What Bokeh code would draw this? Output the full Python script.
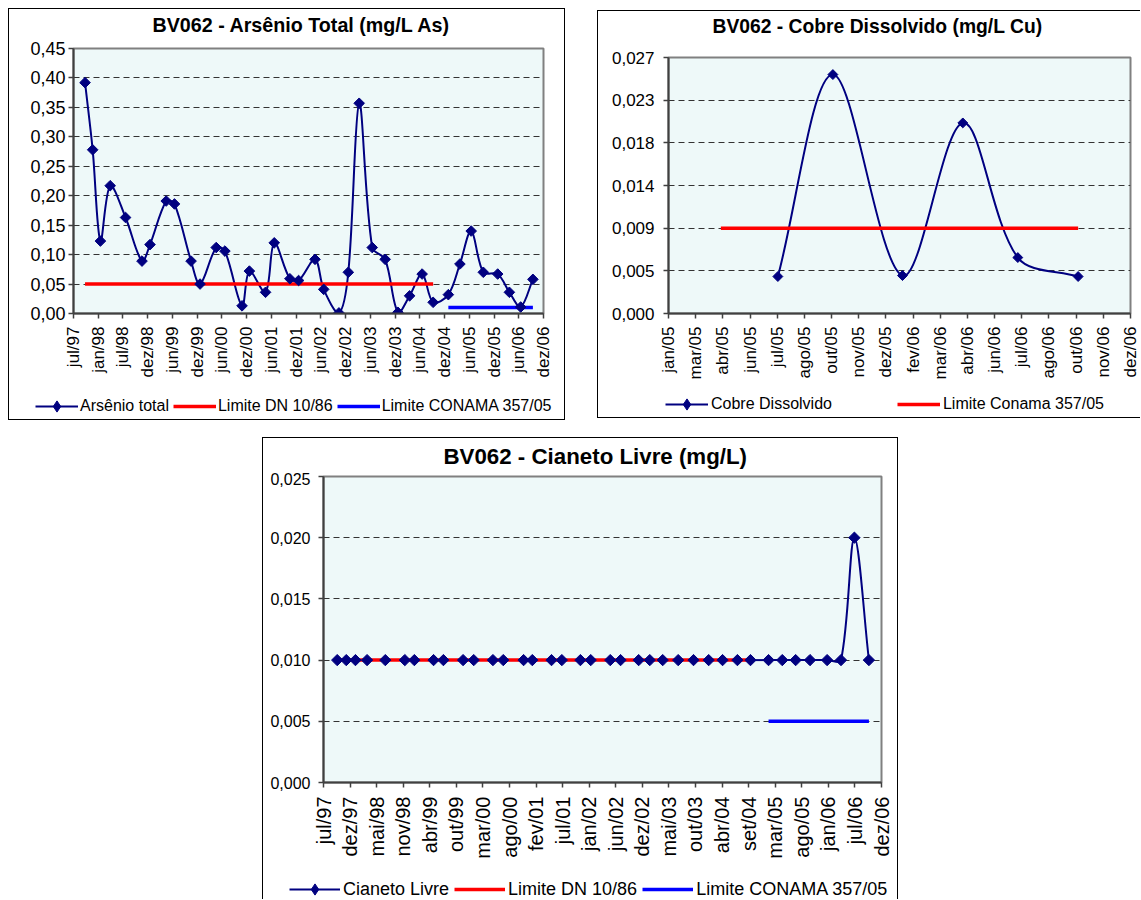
import numpy as np
from bokeh.plotting import figure
from bokeh.models import Range1d, FixedTicker, Legend, LegendItem, Label
from bokeh.layouts import column, row
from bokeh.embed import file_html
from bokeh.resources import INLINE

# ---------------- data ----------------
# sampling campaigns (days after jul/97) shared by Arsenio total and Cianeto livre
sample_day = [85, 141, 198, 270, 383, 504, 563, 682, 743, 865,
              931, 1050, 1114, 1240, 1294, 1413, 1477, 1592, 1656, 1777,
              1841, 1953, 2022, 2102, 2198, 2293, 2387, 2473, 2565, 2646,
              2758, 2843, 2926, 3015, 3121, 3207, 3290, 3380]
arsenio_total = [0.392, 0.278, 0.123, 0.217, 0.163, 0.089, 0.117, 0.191, 0.186, 0.089,
                 0.050, 0.112, 0.106, 0.013, 0.072, 0.036, 0.120, 0.059, 0.056, 0.092,
                 0.041, 0.001, 0.070, 0.357, 0.112, 0.092, 0.002, 0.030, 0.067, 0.019,
                 0.032, 0.084, 0.140, 0.070, 0.067, 0.036, 0.011, 0.058]
cianeto_livre = [0.010, 0.010, 0.010, 0.010, 0.010, 0.010, 0.010, 0.010, 0.010, 0.010,
                 0.010, 0.010, 0.010, 0.010, 0.010, 0.010, 0.010, 0.010, 0.010, 0.010,
                 0.010, 0.010, 0.010, 0.010, 0.010, 0.010, 0.010, 0.010, 0.010, 0.010,
                 0.010, 0.010, 0.010, 0.010, 0.010, 0.010, 0.020, 0.010]
n_dn = 30                    # campaigns evaluated against DN 10/86 (up to dez/04)
limite_dn_as = 0.05
limite_conama_as = 0.01
limite_dn_cn = 0.010
limite_conama_cn = 0.005
span_97_06 = 3458            # axis span jul/97 .. dez/06 (days)

as_x_labels = ["jul/97", "jan/98", "jul/98", "dez/98", "jun/99", "dez/99", "jun/00", "dez/00",
               "jun/01", "dez/01", "jun/02", "dez/02", "jun/03", "dez/03", "jun/04", "dez/04",
               "jun/05", "dez/05", "jun/06", "dez/06"]
as_y_ticks = [0, 0.05, 0.10, 0.15, 0.20, 0.25, 0.30, 0.35, 0.40, 0.45]
as_y_labels = ["0,00", "0,05", "0,10", "0,15", "0,20", "0,25", "0,30", "0,35", "0,40", "0,45"]

cn_x_labels = ["jul/97", "dez/97", "mai/98", "nov/98", "abr/99", "out/99", "mar/00", "ago/00",
               "fev/01", "jul/01", "jan/02", "jun/02", "dez/02", "mai/03", "out/03", "abr/04",
               "set/04", "mar/05", "ago/05", "jan/06", "jul/06", "dez/06"]
cn_y_ticks = [0, 0.005, 0.010, 0.015, 0.020, 0.025]
cn_y_labels = ["0,000", "0,005", "0,010", "0,015", "0,020", "0,025"]

# Cobre dissolvido (days after jan/05)
cu_day = [165, 248, 353, 444, 527, 618]
cobre_dissolvido = [0.0039, 0.0252, 0.0040, 0.0201, 0.0059, 0.0039]
cu_limit_day = [79, 618]
limite_conama_cu = 0.009
span_05_06 = 697
cu_x_labels = ["jan/05", "mar/05", "abr/05", "jun/05", "jul/05", "ago/05", "out/05", "nov/05",
               "dez/05", "fev/06", "mar/06", "abr/06", "jun/06", "jul/06", "ago/06", "out/06",
               "nov/06", "dez/06"]
cu_y_ticks = [0, 0.0045, 0.009, 0.0135, 0.018, 0.0225, 0.027]
cu_y_labels = ["0,000", "0,005", "0,009", "0,014", "0,018", "0,023", "0,027"]

# ---------------- style ----------------
FONT = "Liberation Sans"
NAVY = "#000080"
RED = "#FF0000"
BLUE = "#0000FF"
PLOT_BG = "#EEF9F9"
AXIS = "#404040"


def smooth(xs, ys, kx, ky):
    """Bezier pieces of a smoothed (Excel-like) line; kx, ky = pixels per data unit."""
    P = np.column_stack([np.asarray(xs, float), np.asarray(ys, float)])
    Pp = np.vstack([P[0], P, P[-1]])
    scale = np.array([kx, ky])
    seg = np.hypot(*((P[1:] - P[:-1]) * scale).T)
    d_prev = np.r_[0.0, seg]
    d_next = np.r_[seg, 0.0]
    T = Pp[2:] - Pp[:-2]
    tot = d_prev + d_next
    tot[tot == 0] = 1
    out_c = P + T * (d_next / tot)[:, None] / 3
    in_c = P - T * (d_prev / tot)[:, None] / 3
    return dict(x0=P[:-1, 0], y0=P[:-1, 1], x1=P[1:, 0], y1=P[1:, 1],
                cx0=out_c[:-1, 0], cy0=out_c[:-1, 1], cx1=in_c[1:, 0], cy1=in_c[1:, 1])


def no_align(f):
    try:
        f.frame_align = False
    except Exception:
        pass


def blank_fig(w, h):
    f = figure(width=w, height=h, x_range=Range1d(0, 1), y_range=Range1d(0, 1),
               x_axis_location=None, y_axis_location=None, output_backend="svg",
               toolbar_location=None, tools="", min_border=0,
               min_border_left=0, min_border_right=0, min_border_top=0, min_border_bottom=0)
    f.outline_line_color = None
    f.background_fill_color = "white"
    f.border_fill_color = "white"
    for g in f.grid:
        g.visible = False
    no_align(f)
    return f


def title_fig(w, h, text, size, x, y):
    f = blank_fig(w, h)
    f.add_layout(Label(x=x, y=y, x_units="screen", y_units="screen", text=text,
                       text_font=FONT, text_font_size=size, text_font_style="bold",
                       text_color="black", text_align="left", text_baseline="alphabetic"))
    return f


def legend_fig(w, h, entries, loc, gw, fs, standoff, spacing):
    f = blank_fig(w, h)
    items = []
    for label, kind, color in entries:
        # proxy glyphs lie outside the visible range; only their legend swatch shows
        if kind == "series":
            ra = f.line([-5, -4], [-5, -4], line_color=color, line_width=2)
            rb = f.scatter([-5], [-5], marker="diamond", size=10, fill_color=color, line_color=color)
            items.append(LegendItem(label=label, renderers=[ra, rb]))
        else:
            r = f.line([-5, -4], [-5, -4], line_color=color, line_width=3.5)
            items.append(LegendItem(label=label, renderers=[r]))
    leg = Legend(items=items, location=loc, orientation="horizontal",
                 glyph_width=gw, glyph_height=28, label_standoff=standoff, spacing=spacing,
                 padding=0, margin=0, border_line_color=None, background_fill_alpha=0,
                 label_text_font=FONT, label_text_font_size=fs, label_text_color="black")
    f.add_layout(leg, "center")
    return f


def main_fig(w, h, xr, yr, mb):
    p = figure(width=w, height=h, x_range=Range1d(0, xr), y_range=Range1d(0, yr),
               output_backend="svg", toolbar_location=None, tools="",
               min_border_left=mb[0], min_border_right=mb[1],
               min_border_top=mb[2], min_border_bottom=mb[3])
    p.background_fill_color = PLOT_BG
    p.border_fill_color = "white"
    p.outline_line_color = "#808080"
    p.outline_line_width = 2
    no_align(p)
    return p


def style_axes(p, xt, xl, yt, yl, xfs, yfs, xstand, ystand):
    xa = p.xaxis[0]
    xa.ticker = FixedTicker(ticks=xt)
    xa.major_label_overrides = {t: l for t, l in zip(xt, xl)}
    xa.major_label_orientation = np.pi / 2
    ya = p.yaxis[0]
    ya.ticker = FixedTicker(ticks=yt)
    ya.major_label_overrides = {t: l for t, l in zip(yt, yl)}
    for a, fs, st in ((xa, xfs, xstand), (ya, yfs, ystand)):
        a.major_tick_out = 5
        a.major_tick_in = 0
        a.minor_tick_line_color = None
        a.major_label_text_font = FONT
        a.major_label_text_font_size = fs
        a.major_label_text_color = "black"
        a.major_label_standoff = st
        a.axis_line_color = AXIS
        a.axis_line_width = 2
        a.major_tick_line_color = AXIS
        a.major_tick_line_width = 1.5
    p.xgrid.visible = False
    p.ygrid.ticker = FixedTicker(ticks=yt)
    p.ygrid.grid_line_color = "#333333"
    p.ygrid.grid_line_dash = "6 4"
    p.ygrid.grid_line_width = 1


# ---------------- chart 1: Arsenio total ----------------
as_x_ticks = [round(i * span_97_06 / (len(as_x_labels) - 1)) for i in range(len(as_x_labels))]
t1 = title_fig(555, 30, "BV062 - Arsênio Total (mg/L As)", "19.7px", 143, 15)
p1 = main_fig(555, 344, span_97_06, 0.45, (64, 21, 9, 70))
style_axes(p1, as_x_ticks, as_x_labels, as_y_ticks, as_y_labels, "17px", "18px", 8, 3)
p1.bezier(**smooth(sample_day, arsenio_total, 470 / span_97_06, 265 / 0.45),
          line_color=NAVY, line_width=2)
p1.line([sample_day[0], sample_day[n_dn - 1]], [limite_dn_as, limite_dn_as],
        line_color=RED, line_width=3.5)
p1.line([sample_day[n_dn], sample_day[-1]], [limite_conama_as, limite_conama_as],
        line_color=BLUE, line_width=3.5)
p1.scatter(sample_day, arsenio_total, marker="square", angle=np.pi / 4, size=7.5,
           fill_color=NAVY, line_color=NAVY)
g1 = legend_fig(555, 36, [("Arsênio total", "series", NAVY),
                          ("Limite DN 10/86", "limit", RED),
                          ("Limite CONAMA 357/05", "limit", BLUE)],
                (26, -1), 43, "16px", 2, 4)
c1 = column(t1, p1, g1, styles={"border": "1px solid black"}, margin=(8, 0, 0, 8))

# ---------------- chart 2: Cobre dissolvido ----------------
cu_x_ticks = [round(i * span_05_06 / (len(cu_x_labels) - 1)) for i in range(len(cu_x_labels))]
t2 = title_fig(542, 37, "BV062 - Cobre Dissolvido (mg/L Cu)", "19.3px", 114, 22)
p2 = main_fig(542, 335, span_05_06, 0.027, (70, 10, 9, 70))
style_axes(p2, cu_x_ticks, cu_x_labels, cu_y_ticks, cu_y_labels, "17px", "17px", 8, 9)
p2.bezier(**smooth(cu_day, cobre_dissolvido, 462 / span_05_06, 256 / 0.027),
          line_color=NAVY, line_width=2)
p2.line(cu_limit_day, [limite_conama_cu, limite_conama_cu], line_color=RED, line_width=3.5)
p2.scatter(cu_day, cobre_dissolvido, marker="square", angle=np.pi / 4, size=7,
           fill_color=NAVY, line_color=NAVY)
g2 = legend_fig(542, 34, [("Cobre Dissolvido", "series", NAVY),
                          ("Limite Conama 357/05", "limit", RED)],
                (67, -1), 43, "16px", 3, 65)
c2 = column(t2, p2, g2, margin=(10, 0, 0, 32),
            styles={"border-top": "1px solid black", "border-left": "1px solid black",
                    "border-bottom": "1px solid black"})

# ---------------- chart 3: Cianeto livre ----------------
cn_x_ticks = [round(i * span_97_06 / (len(cn_x_labels) - 1)) for i in range(len(cn_x_labels))]
t3 = title_fig(634, 34, "BV062 - Cianeto Livre (mg/L)", "22.3px", 180, 16)
p3 = main_fig(634, 390, span_97_06, 0.025, (60, 16, 4, 80))
style_axes(p3, cn_x_ticks, cn_x_labels, cn_y_ticks, cn_y_labels, "20px", "16px", 9, 8)
p3.bezier(**smooth(sample_day, cianeto_livre, 558 / span_97_06, 306 / 0.025),
          line_color=NAVY, line_width=2)
p3.line([sample_day[0], sample_day[n_dn - 1]], [limite_dn_cn, limite_dn_cn],
        line_color=RED, line_width=3.5)
p3.line([sample_day[n_dn], sample_day[-1]], [limite_conama_cn, limite_conama_cn],
        line_color=BLUE, line_width=3.5)
p3.scatter(sample_day, cianeto_livre, marker="square", angle=np.pi / 4, size=8,
           fill_color=NAVY, line_color=NAVY)
g3 = legend_fig(634, 37, [("Cianeto Livre", "series", NAVY),
                          ("Limite DN 10/86", "limit", RED),
                          ("Limite CONAMA 357/05", "limit", BLUE)],
                (26, -4), 51, "18px", 3, 5)
c3 = column(t3, p3, g3, margin=(17, 0, 0, 262),
            styles={"border-top": "1px solid black", "border-left": "1px solid black",
                    "border-right": "1px solid black"})

layout = column(row(c1, c2), c3)

open("out.html", "w").write(file_html(layout, INLINE))
